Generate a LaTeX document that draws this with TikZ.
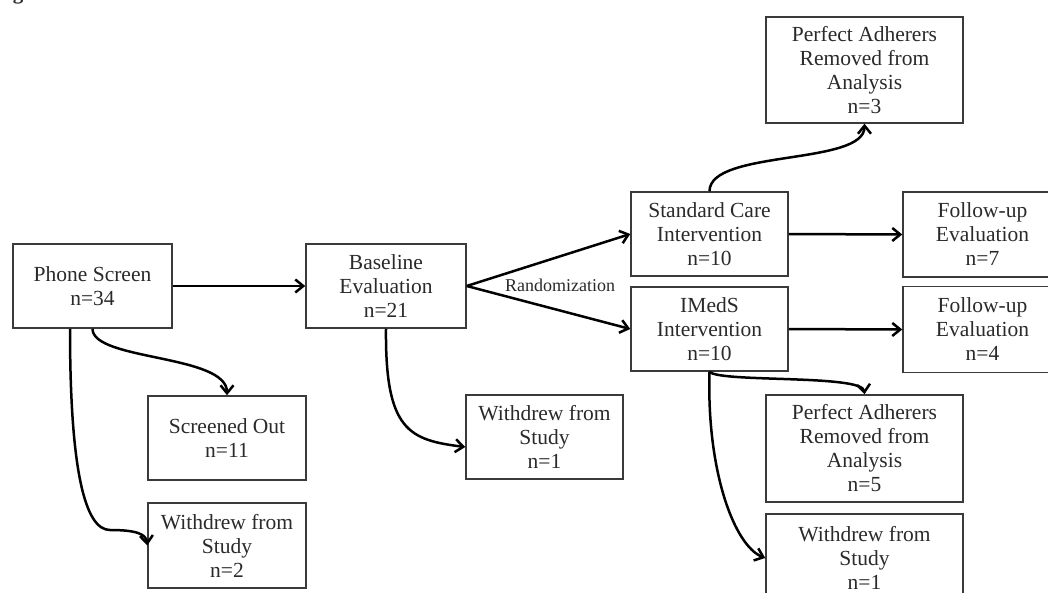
\documentclass[tikz,border=0pt]{standalone}
\usepackage{fontspec}
\setmainfont{Liberation Serif}
\usetikzlibrary{arrows.meta,calc}
\definecolor{boxgray}{HTML}{3A3A3A}
\definecolor{textgray}{HTML}{2A2A2A}
\begin{document}
\begin{tikzpicture}[x=1pt,y=-1pt,
  box/.style={draw=boxgray,line width=1.5pt,rectangle,inner sep=0pt,align=center,
    text=textgray,font=\fontsize{21.5pt}{24pt}\selectfont},
  conn/.style={line width=2.5pt,draw=black,-{Straight Barb[length=8pt,width=13pt]}},
  lbl/.style={text=textgray,inner sep=0pt}]
\clip (0,0) rectangle (1048,593);
\fill[white] (0,0) rectangle (1048,593);

% cut-off caption fragment at the top
\node[lbl,anchor=base west,font=\bfseries\fontsize{21pt}{24pt}\selectfont] (fig) at (-6,0) {Figure};

% boxes
\node[box,minimum width=159pt,minimum height=84pt] (ps) at (92.5,286) {Phone Screen\\n=34};
\node[box,minimum width=160pt,minimum height=84pt] (be) at (386,286) {Baseline\\Evaluation\\n=21};
\node[box,minimum width=157pt,minimum height=84pt] (sc) at (709.5,234) {Standard Care\\Intervention\\n=10};
\node[box,minimum width=197pt,minimum height=106pt] (pa1) at (864.5,70) {Perfect Adherers\\Removed from\\Analysis\\n=3};
\node[box,minimum width=159pt,minimum height=85pt] (fu1) at (982.5,234.5) {Follow-up\\Evaluation\\n=7};
\node[box,minimum width=157pt,minimum height=84pt] (im) at (709.5,329) {IMedS\\Intervention\\n=10};
\node[box,minimum width=159pt,minimum height=86pt] (fu2) at (982.5,329.5) {Follow-up\\Evaluation\\n=4};
\node[box,minimum width=197pt,minimum height=107pt] (pa2) at (864.5,448.5) {Perfect Adherers\\Removed from\\Analysis\\n=5};
\node[box,minimum width=197pt,minimum height=88pt] (wd3) at (864.5,558) {Withdrew from\\Study\\n=1};
\node[box,minimum width=158pt,minimum height=84pt] (so) at (227,438) {Screened Out\\n=11};
\node[box,minimum width=158pt,minimum height=85pt] (wd1) at (227,545.5) {Withdrew from\\Study\\n=2};
\node[box,minimum width=157pt,minimum height=84pt] (wd2) at (544.5,437) {Withdrew from\\Study\\n=1};

\node[lbl,anchor=base,font=\fontsize{18pt}{20pt}\selectfont] (rnd) at (560,291) {Randomization};

% helper points
\coordinate (k1) at (110,530);
\coordinate (psl) at ($(ps.south)+(-22.5,0)$);
\coordinate (wd2in) at ($(wd2.west)+(0,10)$);

% connectors
\draw[conn] (ps.east) -- (be.west);
\draw[conn] (be.east) -- (sc.west);
\draw[conn] (be.east) -- (im.west);
\draw[conn] (sc.east) -- (fu1.west);
\draw[conn] (im.east) -- (fu2.west);
\draw[conn] (sc.north) .. controls +(0,-42) and +(0,42) .. (pa1.south);
\draw[conn] (im.south) .. controls +(10,11) and +(-2,-20) .. (pa2.north);
\draw[conn] (im.south) .. controls +(-3,99) and +(-31,-12) .. (wd3.west);
\draw[conn] (ps.south) .. controls +(0,32) and +(0,-41) .. (so.north);
\draw[conn] (psl) .. controls +(0,142) and +(-25,0) .. (k1) .. controls +(25,0) and +(-1,-12) .. (wd1.west);
\draw[conn] (be.south) .. controls +(-1,102) and +(-56,-7) .. (wd2in);
\end{tikzpicture}
\end{document}
